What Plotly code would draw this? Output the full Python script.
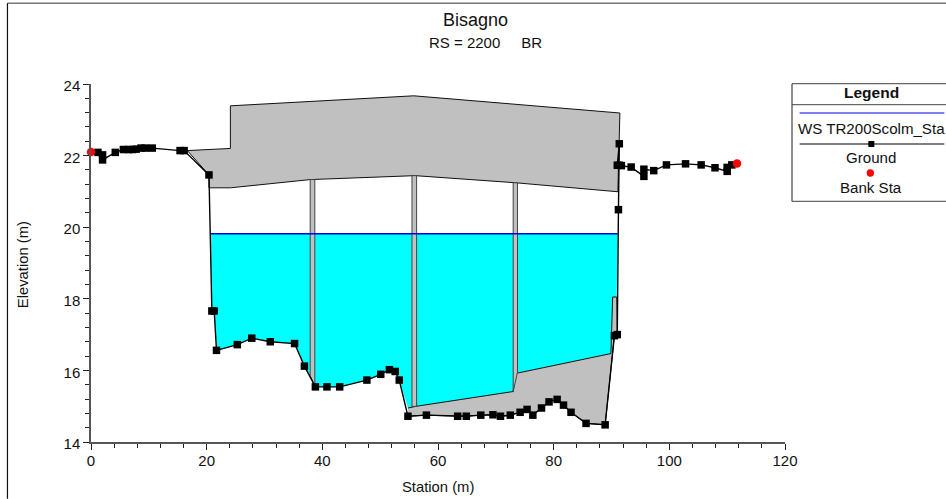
import plotly.graph_objects as go

TITLE = "Bisagno"
SUBTITLE = "RS = 2200     BR"
X_TITLE = "Station (m)"
Y_TITLE = "Elevation (m)"
LEGEND_LABELS = ["WS TR200Scolm_Sta", "Ground", "Bank Sta"]

ground_x = [0, 1.2, 2.0, 2.0, 4.2, 5.6, 6.5, 7.2, 7.8, 8.65, 9.4, 10.6, 15.4, 16.1, 20.4, 20.9, 21.3, 21.7,
            25.3, 27.8, 31.0, 35.2, 36.9, 38.8, 40.8, 43.0, 47.7, 50.1, 51.6, 52.6, 53.3, 54.8, 58.0, 63.4,
            64.9, 67.4, 69.5, 70.8, 72.5, 74.2, 75.4, 76.4, 77.9, 79.2, 80.6, 81.7, 83.0, 85.6, 88.9, 90.5,
            91.0, 91.2, 91.35, 91.35, 91.0, 91.7, 93.4, 95.6, 95.6, 97.3, 99.5, 102.8, 105.5, 107.9, 110.0,
            110.0, 110.8, 111.7]
ground_y = [22.1, 22.09, 22.02, 21.88, 22.09, 22.17, 22.17, 22.17, 22.18, 22.21, 22.21, 22.21, 22.14, 22.14,
            21.46, 17.66, 17.66, 16.56, 16.72, 16.9, 16.8, 16.75, 16.12, 15.54, 15.54, 15.54, 15.73, 15.89,
            16.02, 15.97, 15.73, 14.72, 14.75, 14.72, 14.72, 14.75, 14.76, 14.72, 14.75, 14.83, 14.91, 14.75,
            14.95, 15.12, 15.19, 15.03, 14.83, 14.52, 14.48, 16.97, 17.0, 20.49, 21.73, 22.33, 21.73, 21.72,
            21.68, 21.42, 21.62, 21.58, 21.74, 21.77, 21.74, 21.66, 21.56, 21.67, 21.74, 21.78]

bank_x = [0, 111.7]
bank_y = [22.1, 21.78]

ws_x = [20.6, 91.05]
ws_y = [19.82, 19.82]

deck_x = [16.66, 24.1, 24.1, 55.8, 91.45, 91.1, 73.5, 56.05, 37.9, 24.1, 20.4, 20.4, 16.66]
deck_y = [22.14, 22.2, 23.39, 23.67, 23.19, 20.99, 21.24, 21.44, 21.33, 21.1, 21.1, 21.46, 22.14]

pier1_x = [37.9, 38.7, 38.7, 37.9, 37.9]
pier1_y = [21.33, 21.33, 15.54, 15.85, 21.33]
pier2_x = [55.5, 56.3, 56.3, 55.5, 55.5]
pier2_y = [21.44, 21.44, 15.0, 14.99, 21.44]
pier3_x = [73.0, 73.75, 73.75, 73.0, 73.0]
pier3_y = [21.24, 21.24, 15.95, 15.41, 21.24]

lower_x = [54.8, 56.35, 73.0, 73.3, 89.9, 90.2, 90.9, 91.0, 90.5, 88.9, 85.6, 83.0, 81.7, 80.6, 79.2, 77.9, 76.4,
           75.4, 74.2, 72.5, 70.8, 69.5, 67.4, 64.9, 63.4, 58.0, 54.8]
lower_y = [14.95, 15.0, 15.41, 15.91, 16.47, 18.05, 18.05, 17.0, 16.97, 14.48, 14.52, 14.83, 15.03, 15.19, 15.12,
           14.95, 14.75, 14.91, 14.83, 14.75, 14.72, 14.76, 14.75, 14.72, 14.72, 14.75, 14.72]

water_x = [20.6, 91.05, 90.9, 90.2, 89.9, 73.3, 73.0, 56.35, 54.8, 53.3, 52.6, 51.6, 50.1, 47.7, 43.0, 40.8, 38.8,
           36.9, 35.2, 31.0, 27.8, 25.3, 21.7, 21.3, 20.9, 20.6]
water_y = [19.82, 19.82, 18.05, 18.05, 16.47, 15.91, 15.41, 15.0, 14.95, 15.73, 15.97, 16.02, 15.89, 15.73, 15.54,
           15.54, 15.54, 16.12, 16.75, 16.8, 16.9, 16.72, 16.56, 17.66, 17.66, 19.82]

W, H = 946, 499
L, R, T, B = 91.0, 784.7, 84.3, 442.3
FONT = "Liberation Sans, Arial, sans-serif"
GREY = "#C0C0C0"

fig = go.Figure()


def poly(x, y, fill, line_width=1.0, line_color="#111111"):
    fig.add_trace(go.Scatter(x=x, y=y, mode="lines", fill="toself", fillcolor=fill,
                             line=dict(color=line_color, width=line_width), hoverinfo="skip", showlegend=False))


poly(water_x, water_y, "#00FFFF", 0.0, "#00FFFF")
poly(lower_x, lower_y, GREY)
poly(deck_x, deck_y, GREY)
for px_, py_ in [(pier1_x, pier1_y), (pier2_x, pier2_y), (pier3_x, pier3_y)]:
    poly(px_, py_, GREY, 1.0, "#444444")

fig.add_trace(go.Scatter(x=ws_x, y=ws_y, mode="lines", line=dict(color="#0000E0", width=1.5),
                         name=LEGEND_LABELS[0], showlegend=False))
fig.add_trace(go.Scatter(x=ground_x, y=ground_y, mode="lines", cliponaxis=False,
                         line=dict(color="#000000", width=1.4),
                         name=LEGEND_LABELS[1], showlegend=False))
# the two end points of the ground line sit under the bank station dots
fig.add_trace(go.Scatter(x=ground_x[1:-1], y=ground_y[1:-1], mode="markers", cliponaxis=False,
                         marker=dict(symbol="square", size=7.5, color="#000000", line=dict(width=0)),
                         name=LEGEND_LABELS[1], showlegend=False))
fig.add_trace(go.Scatter(x=bank_x, y=bank_y, mode="markers", cliponaxis=False,
                         marker=dict(symbol="circle", size=8.5, color="#FF0000", line=dict(width=0)),
                         name=LEGEND_LABELS[2], showlegend=False))


def px(x):
    return (x - L) / (R - L)


def py(y):
    return 1 - (y - T) / (B - T)


def line(x0, y0, x1, y1, color, width):
    return dict(type="line", xref="paper", yref="paper", x0=px(x0), y0=py(y0), x1=px(x1), y1=py(y1),
                line=dict(color=color, width=width))


def text(x, y, s, size, bold=False, color="#111111", angle=0):
    return dict(xref="paper", yref="paper", x=px(x), y=py(y), text=f"<b>{s}</b>" if bold else s, showarrow=False,
                font=dict(family=FONT, size=size, color=color), xanchor="center", yanchor="middle", textangle=angle)


shapes = [
    line(7.5, 3.5, 946, 3.5, "#777777", 1.5),
    line(7.5, 3.5, 7.5, 499, "#111111", 1.2),
    line(791.7, 84, 946, 84, "#666666", 1.2),
    line(791.7, 84, 791.7, 201.7, "#444444", 1.2),
    line(791.7, 201.7, 946, 201.7, "#666666", 1.2),
    line(791.7, 105, 946, 105, "#444444", 1.0),
    line(799.3, 113.3, 944, 113.3, "#0000E0", 1.0),
    line(799.3, 144.3, 944, 144.3, "#000000", 1.2),
    dict(type="rect", xref="paper", yref="paper", x0=px(868), x1=px(874), y0=py(141.3), y1=py(147.3),
         fillcolor="#000000", line=dict(width=0)),
    dict(type="circle", xref="paper", yref="paper", x0=px(866.3), x1=px(873.7), y0=py(169.6), y1=py(177),
         fillcolor="#FF0000", line=dict(width=0)),
]

annotations = [
    text(475, 20.5, TITLE, 18),
    text(485, 42.5, SUBTITLE, 15),
    text(22.5, 265, Y_TITLE, 14.8, angle=-90),
    text(438, 487, X_TITLE, 14.8),
    text(871, 93, "Legend", 15.5, bold=True),
    text(871, 128.5, LEGEND_LABELS[0], 15.1),
    text(871, 158, LEGEND_LABELS[1], 15.1),
    text(871, 188, LEGEND_LABELS[2], 15.1),
]

axis_common = dict(showgrid=False, zeroline=False, showline=True, linecolor="#555555", linewidth=1.5,
                   ticks="outside", ticklen=6, tickwidth=1, tickcolor="#222222",
                   tickfont=dict(family=FONT, size=15, color="#111111"))

fig.update_layout(
    width=W, height=H, autosize=False, paper_bgcolor="white", plot_bgcolor="white", showlegend=False,
    margin=dict(l=L, r=W - R, t=T, b=H - B, pad=0),
    xaxis=dict(range=[0, 120], dtick=20, tick0=0, ticklabelstandoff=-2,
               minor=dict(dtick=4, ticks="outside", ticklen=4, tickwidth=1, tickcolor="#222222", showgrid=False),
               **axis_common),
    yaxis=dict(range=[14, 24], dtick=2, tick0=14, ticklabelshift=2,
               minor=dict(dtick=0.4, ticks="outside", ticklen=4, tickwidth=1, tickcolor="#222222", showgrid=False),
               **axis_common),
    shapes=shapes, annotations=annotations,
)

fig.write_html("out.html", config=dict(displayModeBar=False),
               post_script="document.body.style.margin='0';document.body.style.overflow='hidden';")
